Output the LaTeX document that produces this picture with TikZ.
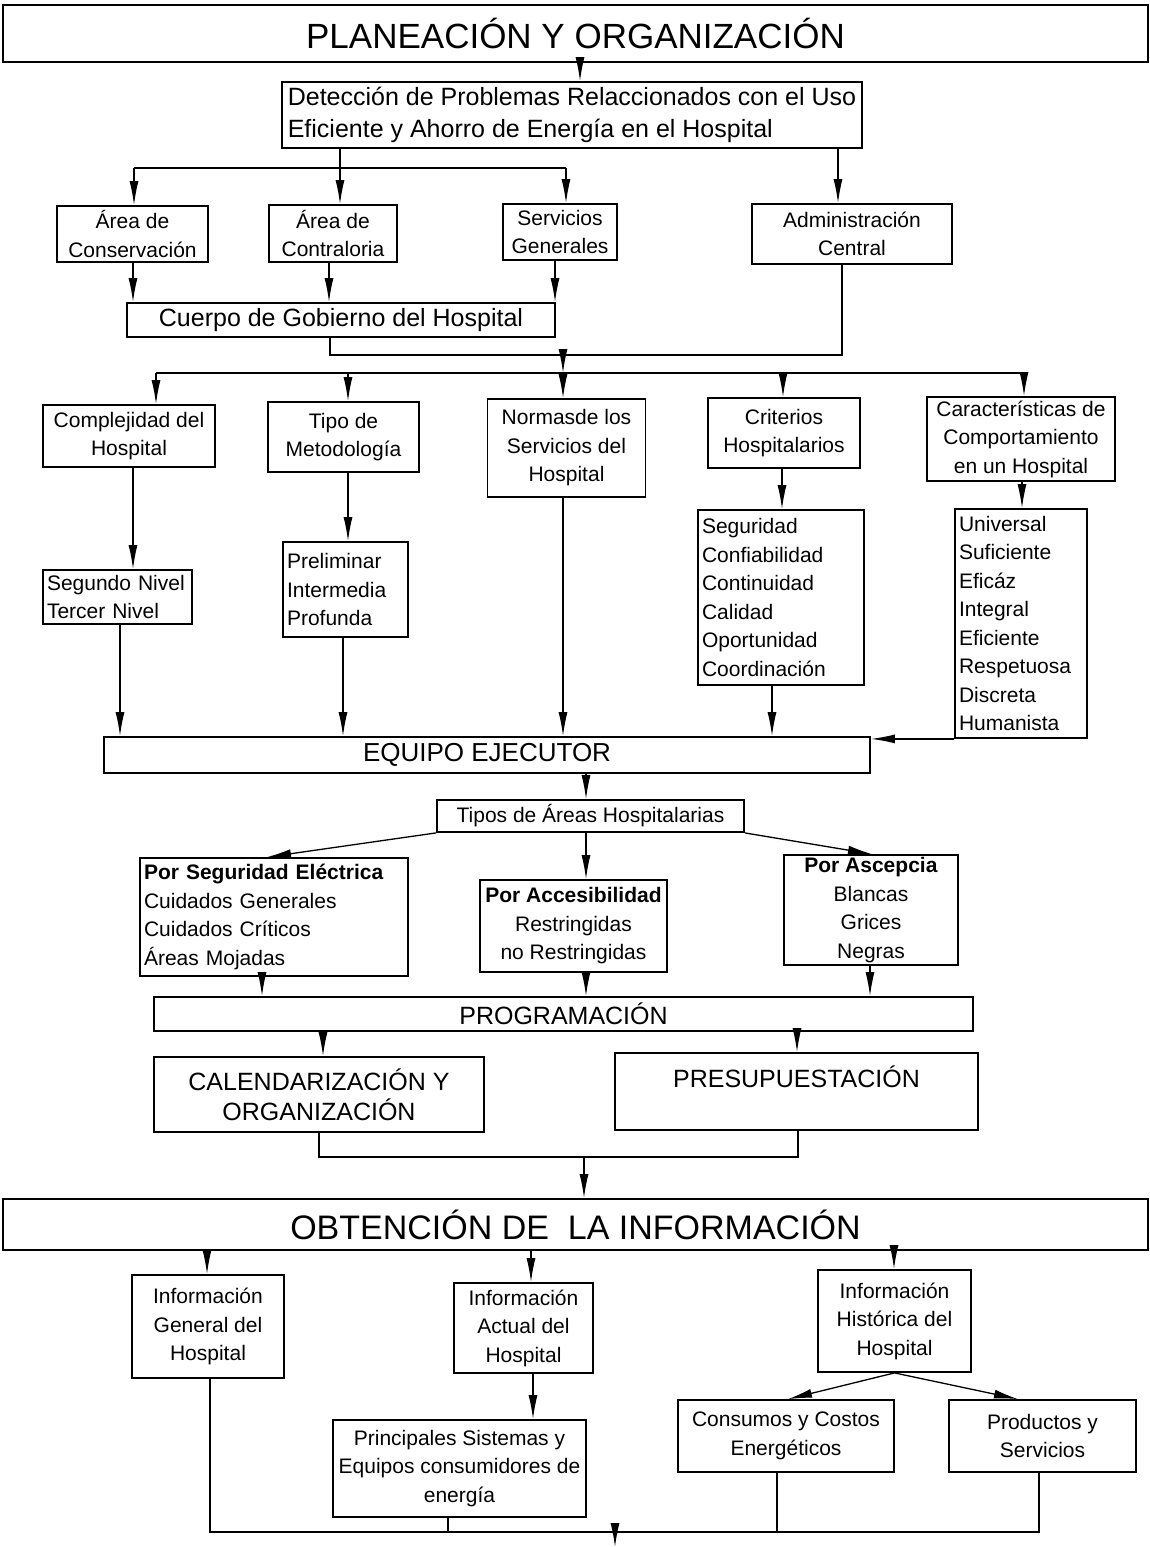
\documentclass[tikz,border=0pt]{standalone}
\usepackage{fontspec}
\setmainfont{Liberation Sans}
\usetikzlibrary{arrows.meta}
\begin{document}
\begin{tikzpicture}[x=1pt,y=-1pt,
  box/.style={draw,line width=1.8pt,inner sep=2pt,align=center,font=\fontsize{21}{28.5}\selectfont},
  lst/.style={box,align=left,inner xsep=4pt},
  conn/.style={line width=1.3pt},
  arr/.style={conn,-{Latex[length=24pt,width=9pt]}},
  hdr/.style={box,font=\fontsize{25}{30}\selectfont},
  big/.style={box,font=\fontsize{35}{40}\selectfont},
]
\useasboundingbox (0,0) rectangle (1149,1547);

% ---------- nodes ----------
\node[big,minimum width=1145pt,minimum height=57pt] (title) at (575.5,33.5) {PLANEACIÓN Y ORGANIZACIÓN};
\node[box,align=left,minimum width=580pt,minimum height=66pt,font=\fontsize{25}{32}\selectfont] (det) at (572,115)
  {Detección de Problemas Relaccionados con el Uso\\Eficiente y Ahorro de Energía en el Hospital};

\node[box,minimum width=151pt,minimum height=56pt] (cons) at (132.5,234) {Área de\\Conservación};
\node[box,minimum width=128pt,minimum height=57pt] (contr) at (333,233.5) {Área de\\Contraloria};
\node[box,minimum width=114pt,minimum height=56pt] (serv) at (560,232) {Servicios\\Generales};
\node[box,minimum width=200pt,minimum height=60pt] (adm) at (852,234) {Administración\\Central};
\node[hdr,minimum width=428pt,minimum height=34pt] (cuerpo) at (341,320) {Cuerpo de Gobierno del Hospital};

\node[box,minimum width=172pt,minimum height=62pt] (compl) at (129,436) {Complejidad del\\Hospital};
\node[box,minimum width=151pt,minimum height=70pt] (tipo) at (343.5,437) {Tipo de\\Metodología};
\node[box,minimum width=158pt,minimum height=98pt] (normas) at (566.5,448) {Normasde los\\Servicios del\\Hospital};
\node[box,minimum width=152pt,minimum height=70pt] (crit) at (784,433) {Criterios\\Hospitalarios};
\node[box,minimum width=188pt,minimum height=84pt] (caract) at (1021,439) {Características de\\Comportamiento\\en un Hospital};

\node[lst,text width=141pt,minimum height=54pt] (segundo) at (117.5,597) {Segundo Nivel\\Tercer Nivel};
\node[lst,text width=117pt,minimum height=95pt] (prelim) at (345.5,589.5) {Preliminar\\Intermedia\\Profunda};
\node[lst,text width=158pt,minimum height=175pt] (segur) at (781,597.5) {Seguridad\\Confiabilidad\\Continuidad\\Calidad\\Oportunidad\\Coordinación};
\node[lst,text width=124pt,minimum height=229pt] (univ) at (1021,623.5) {Universal\\Suficiente\\Eficáz\\Integral\\Eficiente\\Respetuosa\\Discreta\\Humanista};

\node[hdr,minimum width=766pt,minimum height=36pt,font=\fontsize{26}{30}\selectfont] (equipo) at (487,755) {EQUIPO EJECUTOR};
\node[box,minimum width=307pt,minimum height=32pt] (tipos) at (590.5,816) {Tipos de Áreas Hospitalarias};

\node[lst,text width=260pt,minimum height=118pt] (pse) at (274,917) {\textbf{Por Seguridad Eléctrica}\\Cuidados Generales\\Cuidados Críticos\\Áreas Mojadas};
\node[box,minimum width=187pt,minimum height=92pt] (pacc) at (573.5,926) {\textbf{Por Accesibilidad}\\Restringidas\\no Restringidas};
\node[box,minimum width=174pt,minimum height=110pt] (pasc) at (871,910) {\textbf{Por Ascepcia}\\Blancas\\Grices\\Negras};

\node[hdr,minimum width=819pt,minimum height=34pt] (prog) at (563.5,1014) {PROGRAMACIÓN};
\node[hdr,minimum width=330pt,minimum height=75pt] (cal) at (319,1094.5) {CALENDARIZACIÓN Y\\ORGANIZACIÓN};
\node[hdr,minimum width=363pt,minimum height=77pt] (pres) at (796.5,1091.5) {PRESUPUESTACIÓN\\~};

\node[big,minimum width=1145pt,minimum height=51pt,font=\fontsize{34}{40}\selectfont] (obt) at (575.5,1224.5) {OBTENCIÓN DE\ \ LA INFORMACIÓN};

\node[box,minimum width=152pt,minimum height=103pt] (igen) at (208,1326.5) {Información\\General del\\Hospital};
\node[box,minimum width=139pt,minimum height=90pt] (iact) at (523.5,1328) {Información\\Actual del\\Hospital};
\node[box,minimum width=153pt,minimum height=102pt] (ihist) at (894.5,1321) {Información\\Histórica del\\Hospital};
\node[box,minimum width=253pt,minimum height=97pt] (princ) at (459.5,1468.5) {Principales Sistemas y\\Equipos consumidores de\\energía};
\node[box,minimum width=216pt,minimum height=72pt] (cons2) at (786,1436) {Consumos y Costos\\Energéticos};
\node[box,minimum width=187pt,minimum height=72pt] (prod) at (1042.5,1436) {Productos y\\Servicios};

% ---------- connector coordinates ----------
\coordinate (c580) at (580,0);
\coordinate (j1) at (340,168); \coordinate (j1l) at (134,168); \coordinate (j1r) at (566,168);
\coordinate (c838) at (838,0);
\coordinate (c133) at (133,0); \coordinate (c329) at (329,0); \coordinate (c555) at (555,0);
\coordinate (j2l) at (330,355); \coordinate (j2r) at (842,355); \coordinate (j2) at (563,355);
\coordinate (j3) at (563,373); \coordinate (j3l) at (156,373); \coordinate (j3r) at (1024,373);
\coordinate (c348) at (348,373); \coordinate (c783) at (783,373);
\coordinate (c782) at (782,0); \coordinate (c1022) at (1022,0);
\coordinate (c120) at (120,0); \coordinate (c343) at (343,0); \coordinate (c772) at (772,0);
\coordinate (c586) at (586,0); \coordinate (c267) at (267,0); \coordinate (c872) at (872,0);
\coordinate (c262) at (262,0); \coordinate (c870) at (870,0);
\coordinate (c323) at (323,0); \coordinate (c797) at (797,0);
\coordinate (j4l) at (319,1157); \coordinate (j4r) at (798,1157); \coordinate (j4) at (584,1157);
\coordinate (c207) at (207,0); \coordinate (c531) at (531,0); \coordinate (c894) at (894,0);
\coordinate (c533) at (533,0); \coordinate (c788) at (788,0); \coordinate (c1018) at (1018,0);
\coordinate (j5l) at (210,1532); \coordinate (j5r) at (1039,1532);
\coordinate (c448) at (448,0); \coordinate (c777) at (777,0);
\coordinate (j5) at (615,1532); \coordinate (endpt) at (615,1547);

% ---------- connectors ----------
\draw[arr] (title.south -| c580) -- (det.north -| c580);
\draw[conn] (det.south -| j1) -- (j1);
\draw[conn] (j1l) -- (j1r);
\draw[arr] (j1l) -- (cons.north -| j1l);
\draw[arr] (j1) -- (contr.north -| j1);
\draw[arr] (j1r) -- (serv.north -| j1r);
\draw[arr] (det.south -| c838) -- (adm.north -| c838);

\draw[arr] (cons.south -| c133) -- (cuerpo.north -| c133);
\draw[arr] (contr.south -| c329) -- (cuerpo.north -| c329);
\draw[arr] (serv.south -| c555) -- (cuerpo.north -| c555);

\draw[conn] (cuerpo.south -| j2l) -- (j2l) -- (j2r) -- (adm.south -| j2r);
\draw[arr] (j2) -- (j3);
\draw[conn] (j3l) -- (j3r);
\draw[arr] (j3l) -- (compl.north -| j3l);
\draw[arr] (c348) -- (tipo.north -| c348);
\draw[arr] (j3) -- (normas.north -| j3);
\draw[arr] (c783) -- (crit.north -| c783);
\draw[arr] (j3r) -- (caract.north -| j3r);

\draw[arr] (compl.south -| c133) -- (segundo.north -| c133);
\draw[arr] (tipo.south -| c348) -- (prelim.north -| c348);
\draw[arr] (crit.south -| c782) -- (segur.north -| c782);
\draw[arr] (caract.south -| c1022) -- (univ.north -| c1022);

\draw[arr] (segundo.south -| c120) -- (equipo.north -| c120);
\draw[arr] (prelim.south -| c343) -- (equipo.north -| c343);
\draw[arr] (normas.south -| j3) -- (equipo.north -| j3);
\draw[arr] (segur.south -| c772) -- (equipo.north -| c772);
\draw[arr] (univ.south west) -- (univ.south west -| equipo.east);

\draw[arr] (equipo.south -| c586) -- (tipos.north -| c586);
\draw[arr] (tipos.south west) -- (pse.north -| c267);
\draw[arr] (tipos.south -| c586) -- (pacc.north -| c586);
\draw[arr] (tipos.south east) -- (pasc.north -| c872);

\draw[arr] (pse.south -| c262) -- (prog.north -| c262);
\draw[arr] (pacc.south -| c586) -- (prog.north -| c586);
\draw[arr] (pasc.south -| c870) -- (prog.north -| c870);

\draw[arr] (prog.south -| c323) -- (cal.north -| c323);
\draw[arr] (prog.south -| c797) -- (pres.north -| c797);
\draw[conn] (cal.south -| j4l) -- (j4l) -- (j4r) -- (pres.south -| j4r);
\draw[arr] (j4) -- (obt.north -| j4);

\draw[arr] (obt.south -| c207) -- (igen.north -| c207);
\draw[arr] (obt.south -| c531) -- (iact.north -| c531);
\draw[arr] (obt.south -| c894) -- (ihist.north -| c894);
\draw[arr] (iact.south -| c533) -- (princ.north -| c533);
\draw[arr] (ihist.south) -- (cons2.north -| c788);
\draw[arr] (ihist.south) -- (prod.north -| c1018);

\draw[conn] (igen.south -| j5l) -- (j5l) -- (j5r) -- (prod.south -| j5r);
\draw[conn] (princ.south -| c448) -- (c448 |- j5l);
\draw[conn] (cons2.south -| c777) -- (c777 |- j5l);
\draw[arr] (j5) -- (endpt);
\end{tikzpicture}
\end{document}
